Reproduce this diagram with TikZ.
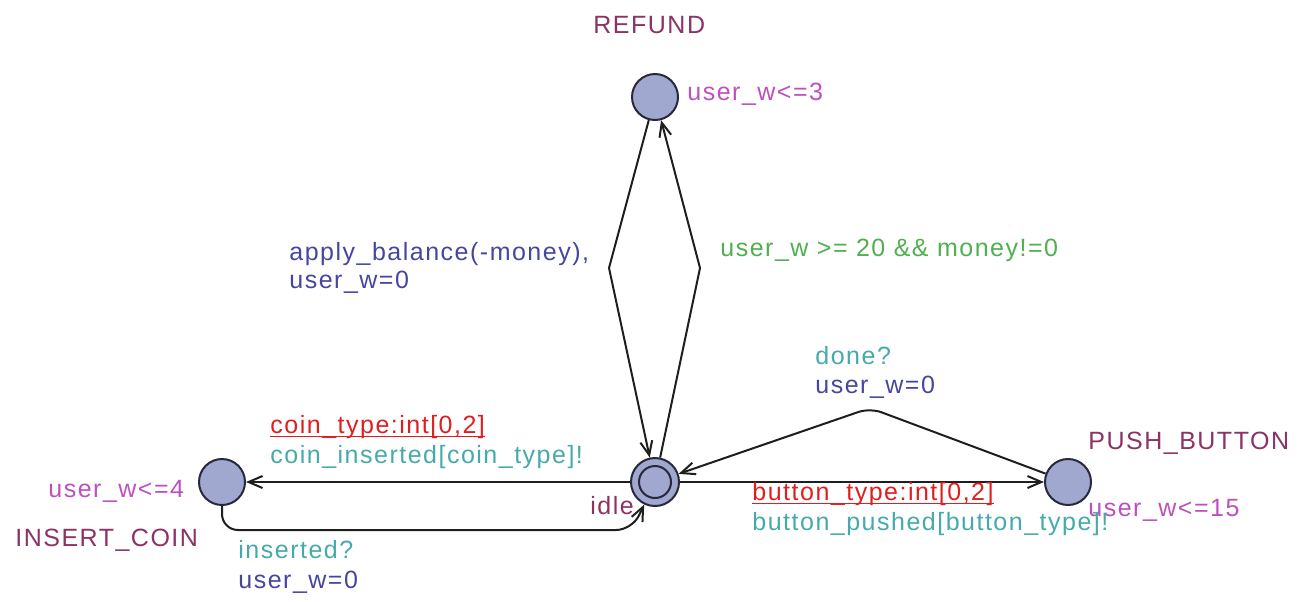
\documentclass[tikz,border=0pt]{standalone}
\usepackage{fontspec}
\setmainfont{Liberation Sans}[LetterSpace=6]
\usetikzlibrary{arrows.meta}
\definecolor{locfill}{RGB}{160,168,208}
\definecolor{locline}{RGB}{40,40,60}
\definecolor{locname}{RGB}{140,50,100}
\definecolor{invcol}{RGB}{190,80,190}
\definecolor{updcol}{RGB}{70,70,160}
\definecolor{grdcol}{RGB}{80,175,80}
\definecolor{synccol}{RGB}{70,170,170}
\definecolor{selcol}{RGB}{225,30,30}
\definecolor{transcol}{RGB}{30,30,30}

\begin{document}
\begin{tikzpicture}[x=0.5pt,y=-0.5pt,
    loc/.style={circle,draw=locline,fill=locfill,line width=1pt,minimum size=23pt,inner sep=0pt},
    lbl/.style={anchor=base west,inner sep=0pt,font=\fontsize{12.5}{14}\selectfont},
    trans/.style={draw=transcol,line width=1pt,-{Straight Barb[length=7pt,width=6pt]}}]
    \useasboundingbox (0,0) rectangle (1300,601);
    % locations
    \foreach \n/\x/\y in {refund/655/97,coin/222/482,push/1068/482}
      \node[loc] (\n) at (\x,\y) {};
    \node[loc,minimum size=24pt] (idle) at (655,482) {};
    \node[loc,minimum size=16pt] (idlein) at (idle) {};
    % bend points
    \coordinate (rl) at (609,268);
    \coordinate (rr) at (700,268);
    \coordinate (pk) at (870,408);
    \coordinate (cl) at (632,530);
    % transitions
    \draw[trans] (refund) -- (rl) -- (idle);
    \draw[trans] (idle) -- (rr) -- (refund);
    \draw[trans] (idle) -- (coin);
    \draw[trans,rounded corners=8pt] (coin) |- (cl) -- (idle);
    \draw[trans] (idle) -- (push);
    \draw[trans,rounded corners=6pt] (push) -- (pk) -- (idle);
    % names and invariants
    \node[lbl,locname] (refundname) at (593,33) {REFUND};
    \node[lbl,invcol] (refundinv) at (687,100) {user\_w<=3};
    \node[lbl,locname] (idlename) at (590,514) {idle};
    \node[lbl,locname] (pushname) at (1088,449) {PUSH\_BUTTON};
    \node[lbl,invcol] (pushinv) at (1088,516) {user\_w<=15};
    \node[lbl,invcol] (coininv) at (48,497) {user\_w<=4};
    \node[lbl,locname] (coinname) at (15,546) {INSERT\_COIN};
    % transition labels
    \node[lbl,updcol,align=left] (refupd) at (289,288) {apply\_balance(-money),\\user\_w=0};
    \node[lbl,grdcol] (refgrd) at (720,256) {user\_w >= 20 \&\& money!=0};
    \node[lbl,synccol] (donesync) at (815,364) {done?};
    \node[lbl,updcol] (doneupd) at (815,393) {user\_w=0};
    \node[lbl,selcol] (pushsel) at (752,500) {button\_type:int[0,2]};
    \node[lbl,synccol] (pushsync) at (752,530) {button\_pushed[button\_type]!};
    \node[lbl,selcol] (coinsel) at (270,433) {coin\_type:int[0,2]};
    \node[lbl,synccol] (coinsync) at (270,463) {coin\_inserted[coin\_type]!};
    \node[lbl,synccol] (inssync) at (238,558) {inserted?};
    \node[lbl,updcol] (insupd) at (238,588) {user\_w=0};
    % underlined selects
    \draw[selcol,line width=0.6pt] ([yshift=-1.6pt]pushsel.base west) -- ([yshift=-1.6pt]pushsel.base east);
    \draw[selcol,line width=0.6pt] ([yshift=-1.6pt]coinsel.base west) -- ([yshift=-1.6pt]coinsel.base east);
\end{tikzpicture}
\end{document}
